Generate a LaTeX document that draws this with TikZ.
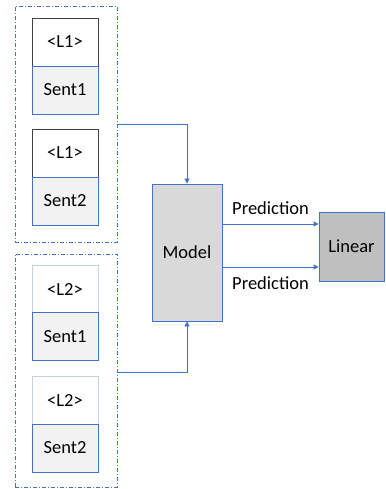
\documentclass[tikz,border=0pt]{standalone}
\usepackage{fontspec}
\setmainfont{Carlito}
\usetikzlibrary{arrows.meta}
\definecolor{cblue}{HTML}{4472C4}
\definecolor{sentfill}{HTML}{F2F2F2}
\definecolor{modelfill}{HTML}{D9D9D9}
\definecolor{linfill}{HTML}{BFBFBF}
\definecolor{lonebd}{HTML}{404040}
\definecolor{ltwobd}{HTML}{C5D0E0}
\begin{document}
\begin{tikzpicture}[x=1pt,y=-1pt,
  every node/.style={font=\fontsize{18.5}{22}\selectfont, inner sep=0pt},
  tagbox/.style={draw=#1, fill=white, line width=0.8pt, minimum width=66pt, minimum height=48pt},
  sentbox/.style={draw=cblue, fill=sentfill, line width=0.8pt, minimum width=66pt, minimum height=48pt},
  groupbox/.style={draw=cblue, line width=0.8pt, dash pattern=on 4pt off 2pt on 1pt off 2pt, minimum width=102pt},
  conn/.style={draw=cblue, line width=0.8pt, -{Triangle[length=5pt,width=5pt]}},
  lbl/.style={font=\fontsize{18.5}{22}\selectfont}
]
\useasboundingbox (0,0) rectangle (385,489);
% groups
\node[groupbox, minimum height=236pt] (g1) at (66,124) {};
\node[groupbox, minimum height=233pt] (g2) at (66,370.5) {};
% top group
\node[tagbox=lonebd] (a1) at (65,42) {<L1>};
\node[sentbox] (s1) at (65,90) {Sent1};
\node[tagbox=lonebd] (a2) at (65,153) {<L1>};
\node[sentbox] (s2) at (65,201) {Sent2};
% bottom group
\node[tagbox=ltwobd] (b1) at (65,289.5) {<L2>};
\node[sentbox] (t1) at (65,336.5) {Sent1};
\node[tagbox=ltwobd] (b2) at (65,400.5) {<L2>};
\node[sentbox] (t2) at (65,448) {Sent2};
\draw[cblue, line width=0.8pt] (s1.south west) -- (s1.south east);
% model and linear
\node[draw=cblue, fill=modelfill, line width=0.8pt, minimum width=70pt, minimum height=137pt] (model) at (187,252.5) {Model};
\node[draw=cblue, fill=linfill, line width=0.8pt, minimum width=65pt, minimum height=69pt] (lin) at (351.5,246.5) {Linear};
% connectors
\coordinate (c1) at (117,124);
\coordinate (c2) at (117,372);
\draw[conn] (c1) -| (model.north);
\draw[conn] (c2) -| (model.south);
\draw[conn] (model.east |- 0,224) -- node[lbl, above=9pt] {Prediction} (lin.west |- 0,224);
\draw[conn] (model.east |- 0,267) -- node[lbl, below=9pt] {Prediction} (lin.west |- 0,267);
\end{tikzpicture}
\end{document}
